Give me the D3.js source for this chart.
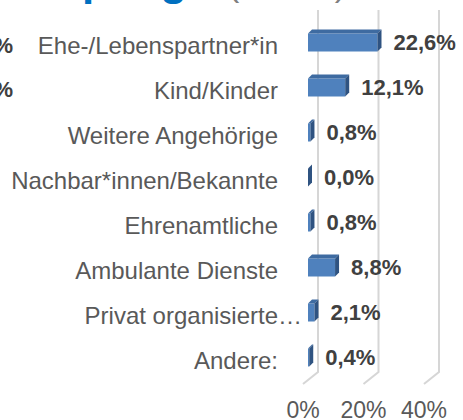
<!DOCTYPE html>
<html>
<head>
<meta charset="utf-8">
<script src="https://cdn.jsdelivr.net/npm/d3@7"></script>
<style>
  body { margin: 0; background: #fff; }
  svg { display: block; font-family: "Liberation Sans", Arial, sans-serif; }
</style>
</head>
<body>
<div class="vis"></div>
<script>
const categories = [
  "Ehe-/Lebenspartner*in",
  "Kind/Kinder",
  "Weitere Angehörige",
  "Nachbar*innen/Bekannte",
  "Ehrenamtliche",
  "Ambulante Dienste",
  "Privat organisierte…",
  "Andere:"
];
const values = [22.6, 12.1, 0.8, 0.0, 0.8, 8.8, 2.1, 0.4];
const tickValues = [0, 20, 40];
const titleMain = "Hauspflege";
const titleSub = "(n=239)";

const width = 463, height = 420;
const depth = { dx: -15, dy: 12 };   // floor perspective of the grid
const barDepth = 4;                  // small 3D offset of bars

const svg = d3.select(".vis").append("svg")
  .attr("width", width)
  .attr("height", height);

// title, mostly cut off at the top of the picture
const title = svg.append("text")
  .attr("y", -5)
  .attr("font-size", 44).attr("font-weight", "bold")
  .attr("fill", "#0070c0")
  .text("Haus");
const prefixW = title.node().getComputedTextLength();
title.text(titleMain).attr("x", 82 - prefixW);

svg.append("text")
  .attr("x", 228).attr("y", -4)
  .attr("font-size", 34)
  .attr("fill", "#7f7f7f")
  .text(titleSub);

// bits of the neighbouring chart's value labels on the left edge
svg.append("g").selectAll("text")
  .data([53, 97])
  .join("text")
  .attr("x", 13).attr("y", d => d)
  .attr("text-anchor", "end")
  .attr("font-size", 22).attr("font-weight", "bold")
  .attr("fill", "#404040")
  .text("%");

const gx = d3.scaleLinear().domain([0, 40]).range([318, 439]);
const bx = d3.scaleLinear().domain([0, 40]).range([308, 431]);
const y = d3.scaleBand()
  .domain(categories)
  .range([20, 380])
  .paddingInner(0.6)
  .paddingOuter(0.3);

// gridlines with the floor edge
const grid = svg.append("g");
grid.selectAll("path")
  .data(tickValues)
  .join("path")
  .attr("d", d => `M${gx(d)},10 L${gx(d)},372 L${gx(d) + depth.dx},${372 + depth.dy}`)
  .attr("fill", "none")
  .attr("stroke", "#d6d6d6")
  .attr("stroke-width", 2);

grid.selectAll("text")
  .data(tickValues)
  .join("text")
  .attr("x", d => gx(d) + depth.dx)
  .attr("y", 418)
  .attr("text-anchor", "middle")
  .attr("font-size", 23)
  .attr("fill", "#595959")
  .text(d => d + "%");

// bars
const bars = svg.append("g").selectAll("g")
  .data(values)
  .join("g");

bars.append("rect")
  .attr("x", bx(0))
  .attr("y", (d, i) => y(categories[i]))
  .attr("width", d => bx(d) - bx(0))
  .attr("height", y.bandwidth())
  .attr("fill", "#4f81bd");

bars.append("path")
  .attr("d", (d, i) => {
    const t = y(categories[i]);
    return `M${bx(0)},${t} L${bx(0) + barDepth},${t - barDepth} L${bx(d) + barDepth},${t - barDepth} L${bx(d)},${t}Z`;
  })
  .attr("fill", "#3e6ba1");

bars.append("path")
  .attr("d", (d, i) => {
    const t = y(categories[i]), b = t + y.bandwidth();
    return `M${bx(d)},${t} L${bx(d) + barDepth},${t - barDepth} L${bx(d) + barDepth},${b - barDepth} L${bx(d)},${b}Z`;
  })
  .attr("fill", "#2f5381");

bars.append("text")
  .attr("x", d => bx(d) + barDepth + 12)
  .attr("y", (d, i) => y(categories[i]) + y.bandwidth() / 2 + 7)
  .attr("font-size", 22)
  .attr("font-weight", "bold")
  .attr("fill", "#404040")
  .text(d => d.toFixed(1).replace(".", ",") + "%");

// category labels
svg.append("g").selectAll("text")
  .data(categories)
  .join("text")
  .attr("y", d => y(d) + y.bandwidth() / 2 + 11)
  .attr("text-anchor", "end")
  .attr("font-size", 24)
  .attr("fill", "#595959")
  .text(d => d)
  .attr("x", function (d) {
    // truncated label: the ellipsis runs past the normal right edge
    if (d.endsWith("…")) {
      const full = this.getComputedTextLength();
      this.textContent = d.slice(0, -1);
      const part = this.getComputedTextLength();
      this.textContent = d;
      return 278 + (full - part);
    }
    return 278;
  });
</script>
</body>
</html>
